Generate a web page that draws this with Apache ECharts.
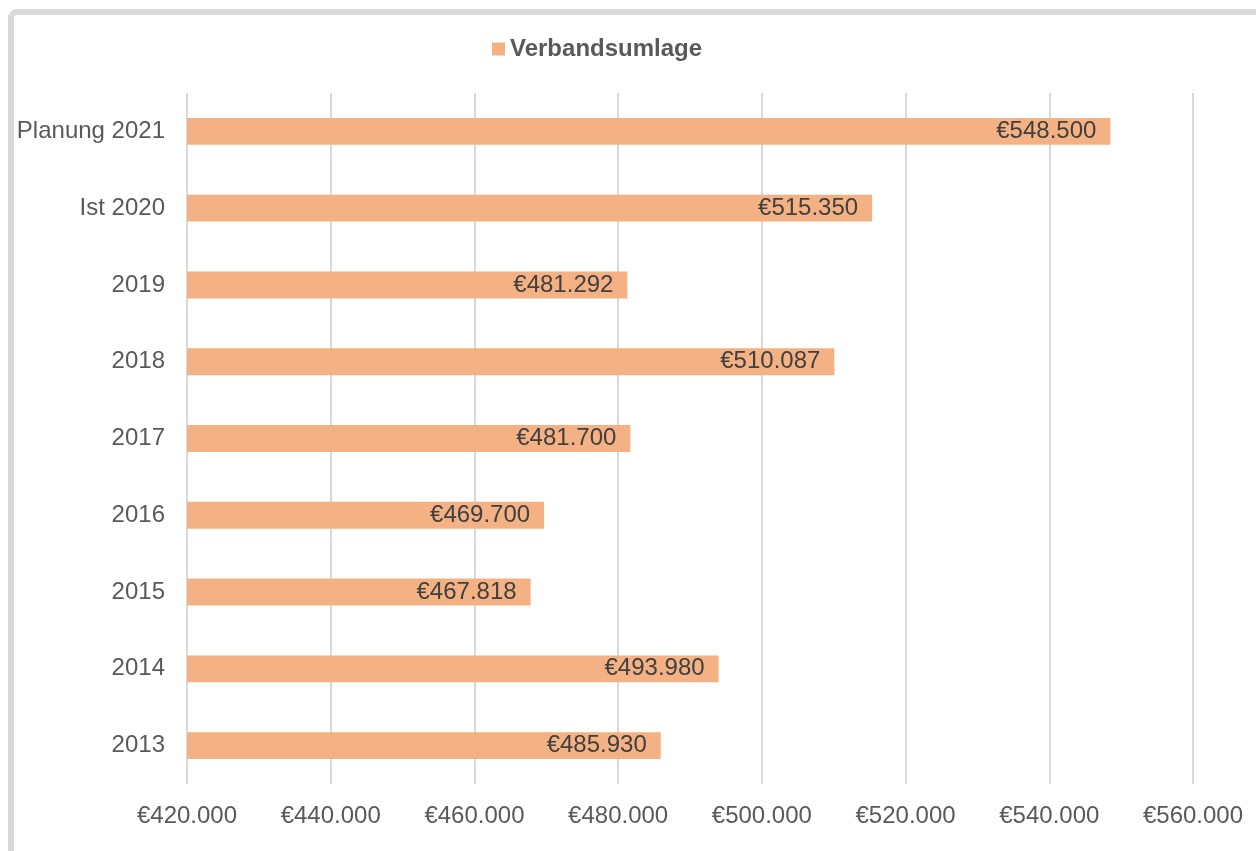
<!DOCTYPE html>
<html><head><meta charset="utf-8">
<script src="https://cdn.jsdelivr.net/npm/echarts@6/dist/echarts.min.js"></script>
<style>html,body{margin:0;padding:0;background:#fff;}#c{width:1256px;height:851px;}</style>
</head><body><div id="c"></div>
<script>
const categories = ['2013','2014','2015','2016','2017','2018','2019','Ist 2020','Planung 2021'];
const values = [485930, 493980, 467818, 469700, 481700, 510087, 481292, 515350, 548500];
const seriesName = 'Verbandsumlage';
const axisMin = 420000, axisMax = 560000, axisStep = 20000;

function eur(v){
  const s = Math.round(v).toString().replace(/\B(?=(\d{3})+(?!\d))/g, '.');
  return '€' + s;
}
const chart = echarts.init(document.getElementById('c'));
chart.setOption({
  animation: false,
  textStyle: {fontFamily: 'Liberation Sans, Arial, sans-serif'},
  graphic: [{
    type: 'rect', silent: true, z: -10,
    shape: {x: 11, y: 12, width: 1300, height: 900, r: 6},
    style: {fill: 'none', stroke: '#d9d9d9', lineWidth: 6}
  }],
  legend: {
    left: 487, top: 32,
    itemWidth: 13, itemHeight: 13, itemGap: 6,
    icon: 'rect',
    textStyle: {fontSize: 24, fontWeight: 'bold', color: '#595959', fontFamily: 'Liberation Sans, Arial, sans-serif'},
    data: [seriesName]
  },
  grid: {left: 187, right: 63, top: 93, bottom: 67, containLabel: false},
  xAxis: {
    type: 'value', min: axisMin, max: axisMax, interval: axisStep,
    axisLine: {show: false}, axisTick: {show: false},
    splitLine: {show: true, lineStyle: {color: '#d9d9d9', width: 2}},
    axisLabel: {formatter: eur, fontSize: 24, color: '#595959', margin: 20}
  },
  yAxis: {
    type: 'category', data: categories,
    axisLine: {show: false}, axisTick: {show: false},
    axisLabel: {fontSize: 24, color: '#595959', margin: 22, padding: [3, 0, 0, 0]}
  },
  series: [{
    name: seriesName, type: 'bar', data: values,
    barWidth: '35%',
    itemStyle: {color: '#f4b183'},
    label: {show: true, position: 'insideRight', distance: 14, padding: [3, 0, 0, 0], formatter: p => eur(p.value), fontSize: 24, color: '#404040'}
  }]
});
</script></body></html>
